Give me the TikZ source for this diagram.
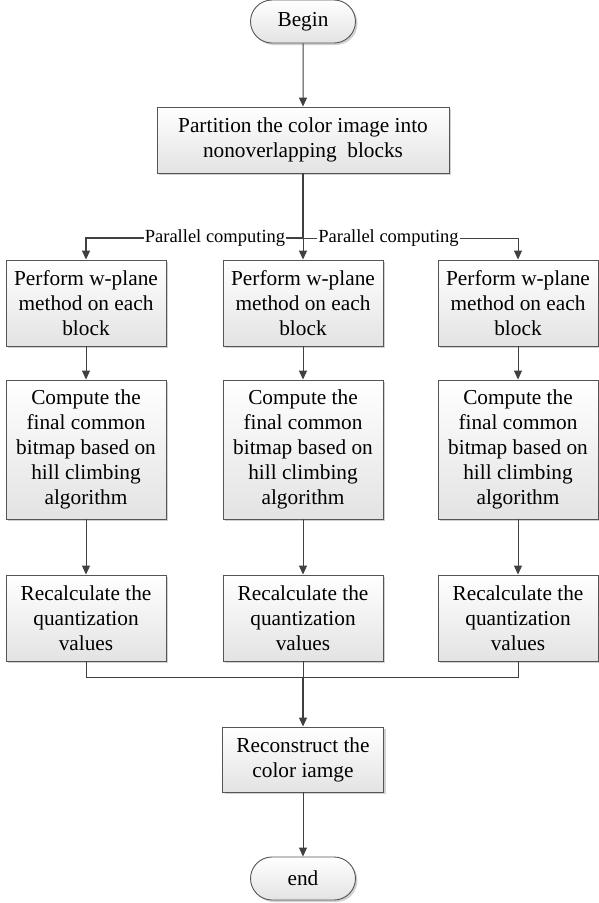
\documentclass[tikz,border=0pt]{standalone}
\usepackage{fontspec}
\setmainfont{Liberation Serif}
\usetikzlibrary{arrows.meta,shapes.misc,shadows}
\definecolor{linecol}{HTML}{404040}
\definecolor{boxline}{HTML}{555555}
\tikzset{
  procbox/.style={draw=boxline, line width=0.9pt, top color=white, bottom color=gray!22,
    drop shadow={shadow xshift=2pt, shadow yshift=-2pt, fill=gray!60, opacity=0.6},
    align=center, inner sep=2pt, font=\fontsize{21.3}{25}\selectfont},
  termbox/.style={procbox, rounded rectangle, minimum width=109pt, minimum height=43pt},
  conn/.style={draw=linecol, line width=1pt},
  arr/.style={conn, -{Triangle[length=9pt,width=8pt]}},
  lbl/.style={fill=white, inner xsep=1pt, inner ysep=1pt, font=\fontsize{18.5}{20}\selectfont}
}
\begin{document}
\begin{tikzpicture}[x=1pt,y=-1pt]
\useasboundingbox (0,0) rectangle (598,903);
% terminals and process boxes
\node[termbox] (begin) at (303,21.5) {Begin};
\node[procbox, minimum width=292pt, minimum height=66pt] (part) at (303,140)
  {Partition the color image into\\nonoverlapping~ blocks};
\foreach \n/\x in {a/86,b/303,c/518}{
  \node[procbox, minimum width=160pt, minimum height=86pt] (w\n) at (\x,303)
    {Perform w-plane\\method on each\\block};
  \node[procbox, minimum width=160pt, minimum height=139pt] (h\n) at (\x,449.5)
    {Compute the\\final common\\bitmap based on\\hill climbing\\algorithm};
  \node[procbox, minimum width=160pt, minimum height=86pt] (q\n) at (\x,618)
    {Recalculate the\\quantization\\values};
}
\node[procbox, minimum width=161pt, minimum height=65pt] (recon) at (303,759.5)
  {Reconstruct the\\color iamge};
\node[termbox] (end) at (303,878.5) {end};
% coordinates for branch and join
\coordinate (split) at (303,238);
\coordinate (join) at (303,677);
% connectors
\draw[arr] (begin) -- (part);
\draw[conn, line width=1.4pt] (part.south) -- (split);
\draw[arr, line width=1.4pt] (split) -| (wa.north);
\draw[arr] (split) -- (wb.north);
\draw[arr] (split) -| (wc.north);
\node[lbl] (pl) at (215,238) {Parallel computing};
\node[lbl] (pr) at (388.5,238) {Parallel computing};
\foreach \n in {a,b,c}{
  \draw[arr] (w\n) -- (h\n);
  \draw[arr] (h\n) -- (q\n);
}
\draw[conn] (qa.south) |- (join);
\draw[conn] (qc.south) |- (join);
\draw[conn] (qb.south) -- (join);
\draw[arr, line width=1.2pt] (join) -- (recon);
\draw[arr] (recon) -- (end);
\end{tikzpicture}
\end{document}
